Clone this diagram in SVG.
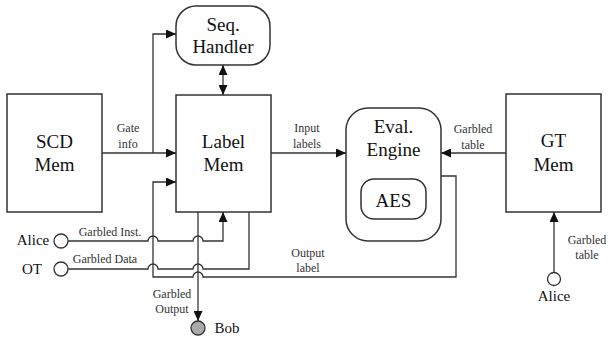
<svg xmlns="http://www.w3.org/2000/svg" width="608" height="339" viewBox="0 0 608 339" font-family="Liberation Serif, DejaVu Serif, serif">
<style>
.box{fill:#fff;stroke:#333;stroke-width:1.5}
.ln{fill:none;stroke:#333;stroke-width:1.3}
text{text-anchor:middle}
.big{font-size:19px;fill:#111}
.sm{font-size:12px;fill:#333}
.md{font-size:15px;fill:#111}
</style>
<defs>
<marker id="ah" markerUnits="userSpaceOnUse" markerWidth="10" markerHeight="9" refX="10" refY="4.5" orient="auto-start-reverse">
<path d="M0,0 L10,4.5 L0,9 z" fill="#111"/>
</marker>
</defs>
<g id="scd-mem"><rect class="box" x="7" y="94" width="95" height="118"/><text class="big" font-family="Liberation Serif, serif" x="54.5" y="148">SCD</text><text class="big" font-family="Liberation Serif, serif" x="54.5" y="171">Mem</text></g>
<g id="label-mem"><rect class="box" x="176" y="95" width="95" height="117"/><text class="big" font-family="Liberation Serif, serif" x="223.5" y="148">Label</text><text class="big" font-family="Liberation Serif, serif" x="223.5" y="171">Mem</text></g>
<g id="seq-handler"><rect class="box" x="176" y="6" width="94" height="59" rx="20" ry="20"/><text class="big" font-family="Liberation Serif, serif" x="223" y="31">Seq.</text><text class="big" font-family="Liberation Serif, serif" x="223" y="53">Handler</text></g>
<g id="eval-engine"><rect class="box" x="346" y="108" width="95" height="133" rx="22" ry="22"/><text class="big" font-family="Liberation Serif, serif" x="393.5" y="133">Eval.</text><text class="big" font-family="Liberation Serif, serif" x="393.5" y="156">Engine</text></g>
<g id="aes"><rect class="box" x="361" y="179" width="65" height="40" rx="13" ry="13"/><text class="big" font-family="Liberation Serif, serif" x="393.5" y="207">AES</text></g>
<g id="gt-mem"><rect class="box" x="506" y="94" width="95" height="118"/><text class="big" font-family="Liberation Serif, serif" x="553.5" y="147">GT</text><text class="big" font-family="Liberation Serif, serif" x="553.5" y="171">Mem</text></g>
<g id="alice-left"><circle cx="61" cy="241" r="7" fill="#fff" stroke="#333" stroke-width="1.3"/><text class="md" font-family="Liberation Serif, serif" x="33" y="245">Alice</text></g>
<g id="ot"><circle cx="61" cy="269" r="7" fill="#fff" stroke="#333" stroke-width="1.3"/><text class="md" font-family="Liberation Serif, serif" x="32" y="274">OT</text></g>
<g id="bob"><circle cx="198" cy="328" r="7" fill="#aaa" stroke="#333" stroke-width="1.3"/><text class="md" font-family="Liberation Serif, serif" x="227" y="333">Bob</text></g>
<g id="alice-right"><circle cx="554" cy="279" r="6.5" fill="#fff" stroke="#333" stroke-width="1.3"/><text class="md" font-family="Liberation Serif, serif" x="554" y="301">Alice</text></g>
<g id="connectors">
<path class="ln" d="M102,153 L176,153" marker-end="url(#ah)"/>
<path class="ln" d="M153,153 L153,34 L176,34" marker-end="url(#ah)"/>
<path class="ln" d="M223,65 L223,95" marker-start="url(#ah)" marker-end="url(#ah)"/>
<path class="ln" d="M271,153 L346,153" marker-end="url(#ah)"/>
<path class="ln" d="M506,153 L441,153" marker-end="url(#ah)"/>
<path class="ln" d="M441,176 L456,176 L456,277 L203,277 A5,5 0 0 0 193,277 L153,277 L153,182 L176,182" marker-end="url(#ah)"/>
<path class="ln" d="M68,241 L148,241 A5,5 0 0 1 158,241 L193,241 A5,5 0 0 1 203,241 L223,241 L223,212" marker-end="url(#ah)"/>
<path class="ln" d="M68,269 L148,269 A5,5 0 0 1 158,269 L193,269 A5,5 0 0 1 203,269 L249,269 L249,212"/>
<path class="ln" d="M198,212 L198,321" marker-end="url(#ah)"/>
<path class="ln" d="M554,272.5 L554,212" marker-end="url(#ah)"/>
<text class="sm" font-family="Liberation Serif, serif" x="128" y="132">Gate</text><text class="sm" font-family="Liberation Serif, serif" x="128" y="148">info</text>
<text class="sm" font-family="Liberation Serif, serif" x="307" y="132">Input</text><text class="sm" font-family="Liberation Serif, serif" x="307" y="148">labels</text>
<text class="sm" font-family="Liberation Serif, serif" x="473" y="133">Garbled</text><text class="sm" font-family="Liberation Serif, serif" x="473" y="149">table</text>
<text class="sm" font-family="Liberation Serif, serif" x="110" y="236">Garbled Inst.</text>
<text class="sm" font-family="Liberation Serif, serif" x="105" y="263">Garbled Data</text>
<text class="sm" font-family="Liberation Serif, serif" x="308" y="257">Output</text><text class="sm" font-family="Liberation Serif, serif" x="308" y="272">label</text>
<text class="sm" font-family="Liberation Serif, serif" x="172" y="298">Garbled</text><text class="sm" font-family="Liberation Serif, serif" x="172" y="313">Output</text>
<text class="sm" font-family="Liberation Serif, serif" x="587" y="244">Garbled</text><text class="sm" font-family="Liberation Serif, serif" x="587" y="259">table</text>
</g>
</svg>
